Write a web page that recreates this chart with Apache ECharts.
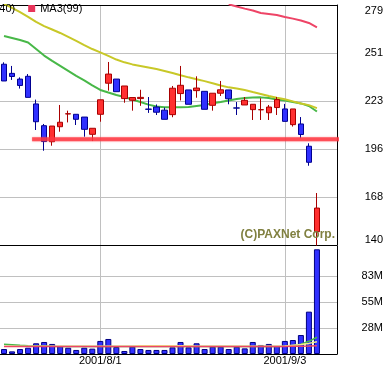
<!DOCTYPE html>
<html><head><meta charset="utf-8">
<script src="https://cdn.jsdelivr.net/npm/echarts@6/dist/echarts.min.js"></script>
<style>html,body{margin:0;padding:0;background:#fff}#c{width:390px;height:367px}</style>
</head><body><div id="c"></div>
<script>
const dates = ['2001/7/13','2001/7/16','2001/7/17','2001/7/18','2001/7/19','2001/7/23','2001/7/24','2001/7/25','2001/7/26','2001/7/27','2001/7/30','2001/7/31',
  '2001/8/1','2001/8/2','2001/8/3','2001/8/6','2001/8/7','2001/8/8','2001/8/9','2001/8/10','2001/8/13','2001/8/14','2001/8/15','2001/8/16','2001/8/17',
  '2001/8/20','2001/8/21','2001/8/22','2001/8/23','2001/8/24','2001/8/27','2001/8/28','2001/8/29','2001/8/30','2001/8/31',
  '2001/9/3','2001/9/4','2001/9/5','2001/9/6','2001/9/7','',''];
const labelDates = ['2001/8/1','2001/9/3'];

const opens  = [244.7,239.4,236.1,237.7,221.7,209.1,199.8,208.5,215.9,215.7,214.1,204.1,215.7,233.7,236.1,224.8,223.8,224.8,218.7,219.9,218.1,215.5,227.7,229.8,229.4,229.0,220.9,227.9,229.8,219.4,221.1,218.4,218.3,216.6,219.6,218.8,209.7,210.1,197.2,147.7];
const closes = [235.0,237.6,232.4,225.5,211.4,199.9,208.9,211.1,216.0,212.8,207.0,207.6,224.1,239.0,228.8,232.1,225.4,225.5,218.6,216.9,212.8,230.8,232.5,221.5,230.9,218.6,227.9,229.9,224.7,219.3,223.8,221.5,218.4,219.9,224.2,211.6,218.8,204.0,187.9,161.4];
const lows   = [235.0,235.6,230.6,225.5,206.6,194.6,197.5,205.6,211.0,209.5,202.7,200.2,211.4,229.4,228.8,222.4,217.8,220.6,216.5,215.3,212.8,214.0,223.7,221.5,225.3,218.6,217.8,226.3,221.5,215.3,221.1,212.4,212.4,212.4,215.3,211.6,208.6,201.8,185.9,139.6];
const highs  = [245.8,243.7,237.1,239.0,224.2,210.1,208.9,221.1,217.8,215.7,214.1,207.6,224.1,246.0,236.1,232.1,225.4,229.9,225.7,221.4,219.6,232.1,243.7,229.8,237.7,229.0,227.9,235.0,229.8,222.8,225.7,221.5,225.0,221.1,225.7,221.7,218.8,214.1,198.9,170.1];

const ma1 = [261.0,259.9,258.7,257.3,253.5,249.7,246.6,243.7,240.8,237.9,235.3,232.4,229.8,228.3,226.9,225.7,224.3,222.8,221.3,220.2,219.8,219.8,219.8,219.9,220.5,221.1,222.1,222.8,223.7,224.6,225.1,225.4,225.5,225.1,224.3,223.7,222.8,222.0,220.5,217.3];
const ma2 = [279.6,277.4,274.9,272.1,269.2,266.8,264.8,262.8,260.5,258.2,255.8,253.5,251.6,249.5,247.4,245.8,244.6,243.7,242.8,241.9,240.8,239.6,238.3,237.1,236.0,234.9,233.7,232.4,231.3,230.6,229.8,228.6,227.5,226.3,225.3,224.4,223.2,222.0,221.0,219.3];
const ma3 = [null,null,null,null,null,null,null,null,null,null,null,null,null,null,null,null,null,null,null,null,null,null,null,null,null,null,null,null,279.4,278.1,276.9,275.8,274.4,273.8,273.2,272.1,271.1,270.0,268.6,266.1];

const supportLevel = 201.3;
const supportSpan = [3.5, 42.3];

const volumes = [5.3,2.8,5.3,6.7,11.4,12.8,10.7,8.2,6.7,4.3,6.7,5.7,13.9,16.0,7.5,3.2,7.8,5.3,4.3,4.3,4.3,7.1,12.8,7.1,11.4,5.3,7.8,7.8,5.3,7.8,6.0,12.8,9.6,10.7,8.5,13.9,14.9,20.2,45.1,111.5];
const volMa1 = [10.3,9.8,9.3,8.9,8.6,8.4,8.2,8.1,8.0,8.0,8.0,8.0,8.0,8.0,8.0,8.0,8.0,8.0,8.0,8.0,8.0,8.0,8.0,8.0,8.0,8.0,8.0,8.0,8.0,8.0,8.0,8.0,8.0,8.0,8.0,8.2,8.8,10.3,13.5,17.8];
const volMa2 = [8.3,8.3,8.3,8.3,8.3,8.3,8.3,8.3,8.3,8.3,8.3,8.3,8.3,8.3,8.3,8.3,8.3,8.9,8.9,8.9,8.9,8.9,8.9,8.9,8.3,8.3,8.3,8.3,8.3,8.3,8.3,8.3,8.3,8.3,8.3,8.4,9.3,10.0,11.3,13.1];
const volMa3 = [8.0,8.0,8.0,8.0,8.0,8.0,8.0,8.0,8.0,8.0,8.0,8.0,8.0,8.0,8.0,8.0,8.0,8.0,8.0,8.0,8.0,8.0,8.0,8.0,8.0,8.0,8.0,8.0,8.0,8.0,8.0,8.0,8.0,8.0,8.0,8.1,8.2,8.3,8.5,8.8];

const priceTicks = [140,167.8,195.6,223.4,251.2,279];
const volumeTicks = [0,27.7,55.4,83.1];

const FONT = "'Liberation Sans', Arial, sans-serif";
const GRID_GRAY = '#c0c0c0';
const showDate = (i) => labelDates.indexOf(dates[i]) >= 0;

const chart = echarts.init(document.getElementById('c'), null, {renderer: 'canvas'});
chart.setOption({
  animation: false,
  backgroundColor: '#ffffff',
  textStyle: {fontFamily: FONT},
  title: {
    text: '(C)PAXNet Corp.', right: 55, top: 229, padding: 0,
    textStyle: {fontSize: 12, fontWeight: 'bold', color: '#808040', fontFamily: FONT}
  },
  legend: {
    data: ['MA2(40)', 'MA3(99)'], left: -39, top: 3, padding: 0,
    itemWidth: 7, itemHeight: 7, itemGap: 13, icon: 'rect',
    textStyle: {fontSize: 11, color: '#000', fontFamily: FONT}
  },
  grid: [
    {left: 0, right: 53, top: 5, height: 240},
    {left: 0, right: 53, top: 246, height: 108}
  ],
  xAxis: [
    {type: 'category', gridIndex: 0, data: dates, position: 'top', boundaryGap: true,
     axisLine: {show: true, onZero: false, lineStyle: {color: '#000', width: 1}}, axisTick: {show: false}, axisLabel: {show: false},
     splitLine: {show: true, interval: (i) => showDate(i), alignWithLabel: true, lineStyle: {color: GRID_GRAY, width: 1}}},
    {type: 'value', gridIndex: 0, min: -0.5, max: dates.length - 0.5, position: 'bottom',
     axisLine: {show: true, onZero: false, lineStyle: {color: '#000', width: 1}}, axisTick: {show: false}, axisLabel: {show: false}, splitLine: {show: false}},
    {type: 'category', gridIndex: 1, data: dates, position: 'bottom', boundaryGap: true,
     axisLine: {show: true, onZero: false, lineStyle: {color: '#000', width: 1}}, axisTick: {show: false},
     axisLabel: {interval: (i) => showDate(i), fontSize: 11, color: '#000', margin: 1, fontFamily: FONT},
     splitLine: {show: true, interval: (i) => showDate(i), alignWithLabel: true, lineStyle: {color: GRID_GRAY, width: 1}}}
  ],
  yAxis: [
    {type: 'value', gridIndex: 0, position: 'right', min: 140, max: 279,
     axisLine: {show: true, onZero: false, lineStyle: {color: '#000', width: 1}},
     axisTick: {show: false, customValues: priceTicks},
     axisLabel: {customValues: priceTicks, formatter: (v) => String(Math.round(v)), fontSize: 11, color: '#000', align: 'right', margin: 46,
                 verticalAlignMaxLabel: 'top', verticalAlignMinLabel: 'bottom', fontFamily: FONT},
     splitLine: {show: true, lineStyle: {color: GRID_GRAY, width: 1}}},
    {type: 'value', gridIndex: 1, position: 'right', min: 0, max: 115,
     axisLine: {show: true, onZero: false, lineStyle: {color: '#000', width: 1}},
     axisTick: {show: false, customValues: volumeTicks},
     axisLabel: {customValues: volumeTicks.slice(1), formatter: (v) => Math.round(v) + 'M', fontSize: 11, color: '#000', align: 'right', margin: 46, fontFamily: FONT},
     splitLine: {show: true, lineStyle: {color: GRID_GRAY, width: 1}}}
  ],
  series: [
    {name: 'MA1(13)', type: 'line', xAxisIndex: 0, yAxisIndex: 0, data: ma1, symbol: 'none', z: 2,
     lineStyle: {width: 2, color: '#48b848'}, itemStyle: {color: '#48b848'}},
    {name: 'MA2(40)', type: 'line', xAxisIndex: 0, yAxisIndex: 0, data: ma2, symbol: 'none', z: 2,
     lineStyle: {width: 2, color: '#c8c828'}, itemStyle: {color: '#c8c828'}},
    {name: 'MA3(99)', type: 'line', xAxisIndex: 0, yAxisIndex: 0, data: ma3, symbol: 'none', z: 2, connectNulls: false,
     lineStyle: {width: 2, color: '#ee4466'}, itemStyle: {color: '#e8345a'}},
    {name: 'Price', type: 'candlestick', xAxisIndex: 0, yAxisIndex: 0, z: 3, barWidth: 6,
     data: opens.map((o, i) => [o, closes[i], lows[i], highs[i]]),
     itemStyle: {color: '#ff3030', color0: '#3030ff', borderColor: '#a80000', borderColor0: '#000090', borderWidth: 1}},
    {name: 'Support', type: 'line', xAxisIndex: 1, yAxisIndex: 0, z: 5, clip: false, symbol: 'none',
     data: [[supportSpan[0], supportLevel], [supportSpan[1], supportLevel]],
     lineStyle: {width: 4, color: 'rgba(255,50,60,0.78)', shadowBlur: 2, shadowColor: 'rgba(255,90,100,0.7)'}},
    {name: 'Volume', type: 'bar', xAxisIndex: 2, yAxisIndex: 1, data: volumes, barWidth: 6, z: 2,
     itemStyle: {color: '#3030ff', borderColor: '#000080', borderWidth: 1}},
    {name: 'VMA1', type: 'line', xAxisIndex: 2, yAxisIndex: 1, data: volMa1, symbol: 'none', z: 3,
     lineStyle: {width: 1.5, color: '#48b848'}},
    {name: 'VMA2', type: 'line', xAxisIndex: 2, yAxisIndex: 1, data: volMa2, symbol: 'none', z: 3,
     lineStyle: {width: 1.5, color: '#eeee88'}},
    {name: 'VMA3', type: 'line', xAxisIndex: 2, yAxisIndex: 1, data: volMa3, symbol: 'none', z: 3,
     lineStyle: {width: 1.5, color: '#ee4466'}}
  ]
});
</script>
</body></html>
